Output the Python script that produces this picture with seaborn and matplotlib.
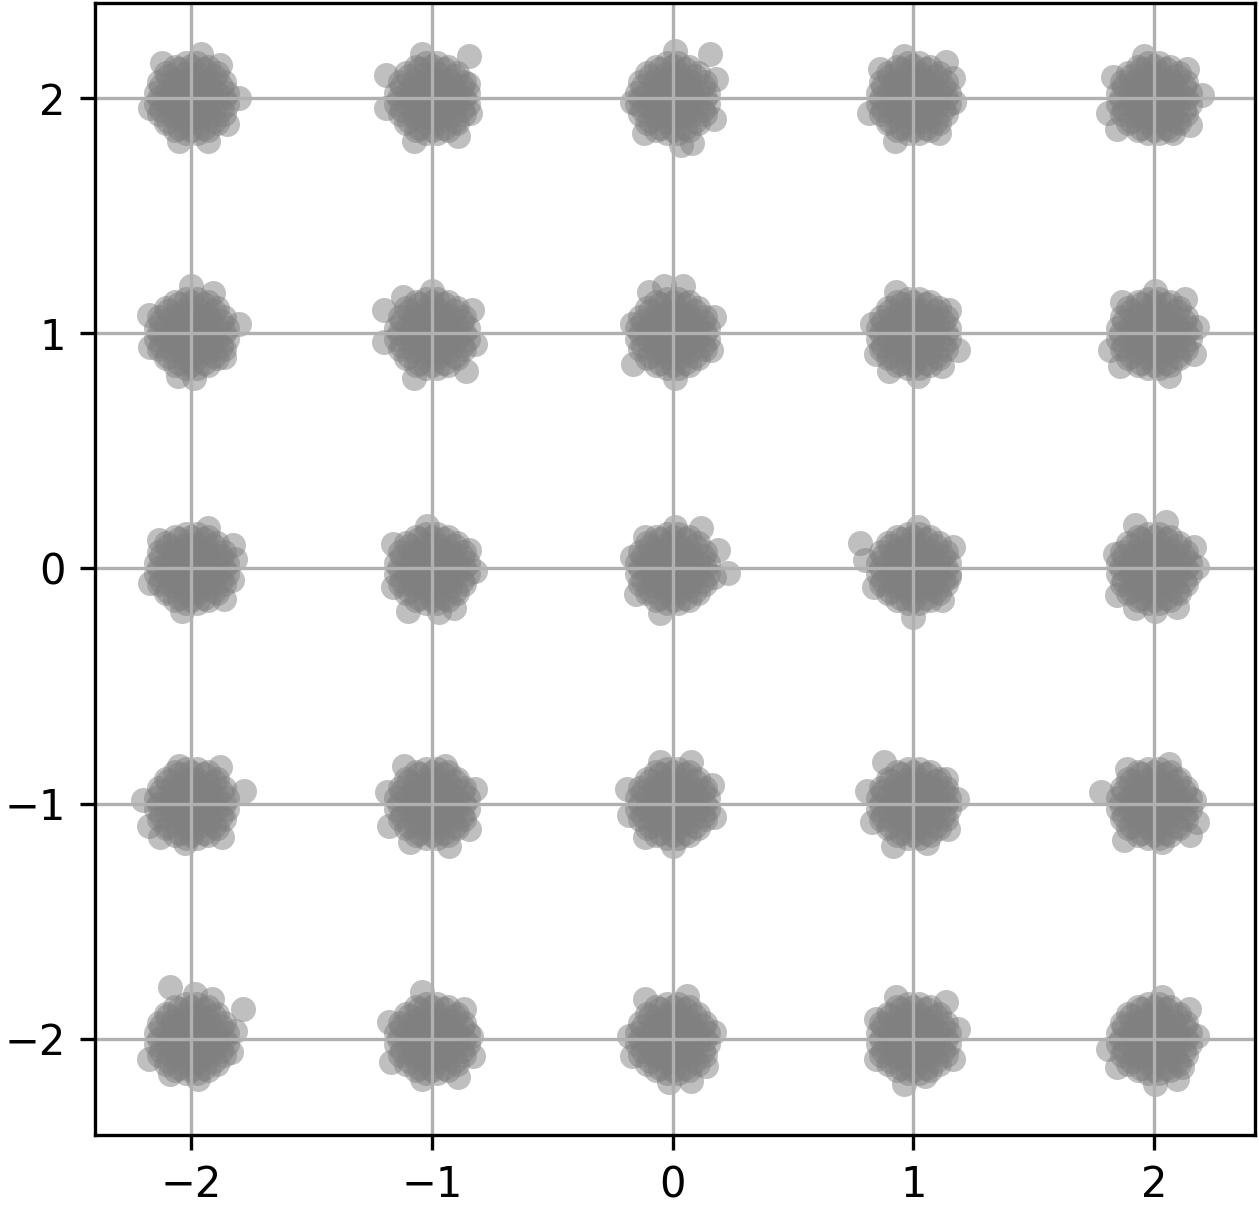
import numpy as np
import pandas as pd
import matplotlib
matplotlib.use("Agg")
import matplotlib.pyplot as plt
import seaborn as sns

# Constellation points (5x5 grid)
CENTER_X = [-2, -1, 0, 1, 2] * 5
CENTER_Y = [2] * 5 + [1] * 5 + [0] * 5 + [-1] * 5 + [-2] * 5

# Dense core of each cluster (offsets read as a compact blob)
CORE_DX = [0.0,
           0.035, 0.0175, -0.0175, -0.035, -0.0175, 0.0175,
           0.07, 0.061, 0.035, 0.0, -0.035, -0.061, -0.07, -0.061, -0.035, 0.0, 0.035, 0.061,
           0.082, 0.060, 0.022, -0.022, -0.060, -0.082, -0.082, -0.060, -0.022, 0.022, 0.060, 0.082,
           0.101, 0.074, 0.027, -0.027, -0.074, -0.101, -0.101, -0.074, -0.027, 0.027, 0.074, 0.101,
           0.135, 0.125, 0.095, 0.052, 0.0, -0.052, -0.095, -0.125, -0.135, -0.125, -0.095, -0.052, 0.0, 0.052, 0.095, 0.125,
           0.148, 0.134, 0.106, 0.068, 0.023, -0.023, -0.068, -0.106, -0.134, -0.148,
           -0.148, -0.134, -0.106, -0.068, -0.023, 0.023, 0.068, 0.106, 0.134, 0.148]
CORE_DY = [0.0,
           0.0, 0.030, 0.030, 0.0, -0.030, -0.030,
           0.0, 0.035, 0.061, 0.07, 0.061, 0.035, 0.0, -0.035, -0.061, -0.07, -0.061, -0.035,
           0.022, 0.060, 0.082, 0.082, 0.060, 0.022, -0.022, -0.060, -0.082, -0.082, -0.060, -0.022,
           0.027, 0.074, 0.101, 0.101, 0.074, 0.027, -0.027, -0.074, -0.101, -0.101, -0.074, -0.027,
           0.0, 0.052, 0.095, 0.125, 0.135, 0.125, 0.095, 0.052, 0.0, -0.052, -0.095, -0.125, -0.135, -0.125, -0.095, -0.052,
           0.023, 0.068, 0.106, 0.134, 0.148, 0.148, 0.134, 0.106, 0.068, 0.023,
           -0.023, -0.068, -0.106, -0.134, -0.148, -0.148, -0.134, -0.106, -0.068, -0.023]

# Scattered outer points of each cluster (dx, dy), same order as centers
OUTLIERS = [
    [(0.20, 0.0), (0.07, -0.18), (0.15, -0.11), (-0.17, -0.04), (-0.12, 0.15), (0.04, 0.19), (0.12, 0.14), (-0.05, -0.18)],
    [(0.155, 0.18), (0.15, 0.06), (-0.19, 0.10), (-0.19, -0.04), (0.11, -0.16), (-0.075, -0.18), (-0.04, 0.19), (0.16, -0.065)],
    [(0.155, 0.19), (0.18, 0.08), (0.17, -0.09), (0.08, -0.19), (0.035, -0.20), (-0.17, -0.015), (-0.12, -0.15), (0.01, 0.20)],
    [(0.135, 0.155), (-0.14, 0.126), (-0.185, -0.065), (-0.076, -0.18), (0.17, -0.015), (0.165, 0.084), (-0.04, 0.18), (0.107, -0.15)],
    [(0.20, 0.013), (0.15, -0.115), (-0.04, 0.18), (-0.19, -0.065), (-0.155, -0.13), (0.08, -0.15), (0.137, 0.126), (-0.17, 0.09)],
    [(-0.175, 0.077), (0.20, 0.04), (0.0, 0.20), (0.09, 0.17), (-0.056, -0.18), (0.01, -0.19), (-0.17, -0.06), (0.135, -0.10)],
    [(0.165, 0.10), (-0.20, 0.10), (-0.20, -0.037), (-0.075, -0.19), (0.14, -0.16), (0.0, 0.18), (-0.12, 0.155), (0.18, -0.045)],
    [(-0.165, -0.13), (0.01, -0.19), (-0.035, 0.20), (0.045, 0.20), (0.17, 0.07), (0.16, -0.07), (-0.17, 0.04), (-0.10, 0.175)],
    [(0.187, -0.07), (-0.17, 0.04), (-0.156, -0.087), (0.02, -0.18), (0.12, -0.14), (-0.07, 0.175), (0.15, 0.10), (-0.10, -0.16)],
    [(0.13, 0.147), (-0.184, -0.072), (-0.133, 0.133), (0.064, -0.18), (0.18, 0.027), (0.167, -0.087), (-0.14, -0.14), (0.005, 0.18)],
    [(0.175, 0.10), (0.18, 0.04), (-0.17, -0.06), (0.135, -0.13), (-0.04, -0.18), (0.07, 0.17), (-0.135, 0.12), (0.17, -0.05)],
    [(-0.16, 0.105), (-0.02, 0.18), (0.18, -0.01), (-0.10, -0.18), (0.09, -0.17), (0.03, -0.186), (-0.16, -0.08), (0.156, 0.077)],
    [(-0.17, 0.048), (-0.053, -0.19), (0.187, 0.077), (0.17, -0.037), (0.01, 0.175), (0.12, 0.17), (-0.15, -0.11), (-0.116, 0.133), (0.23, -0.02)],
    [(-0.22, 0.11), (-0.20, 0.034), (-0.165, -0.08), (0.0, -0.207), (0.165, 0.09), (0.12, -0.136), (0.02, 0.176), (0.15, -0.037)],
    [(0.05, 0.197), (-0.08, 0.183), (0.18, 0.006), (0.167, 0.09), (0.006, -0.18), (-0.08, -0.17), (-0.155, -0.115), (-0.16, 0.062), (0.094, -0.165)],
    [(0.22, 0.055), (0.12, 0.155), (-0.05, 0.16), (-0.175, -0.094), (-0.128, -0.143), (0.128, -0.143), (-0.024, -0.17), (-0.20, 0.013)],
    [(-0.187, 0.048), (0.156, -0.108), (0.07, -0.18), (-0.09, -0.165), (-0.115, 0.16), (0.053, 0.16), (-0.18, -0.094), (0.18, 0.062)],
    [(-0.188, 0.062), (-0.18, -0.05), (-0.116, -0.143), (0.0, -0.18), (-0.053, 0.176), (0.075, 0.176), (0.163, 0.077), (0.17, -0.058)],
    [(-0.12, 0.176), (-0.193, 0.055), (0.136, 0.105), (0.18, 0.02), (-0.083, -0.18), (0.056, -0.17), (0.143, -0.108), (-0.17, -0.08)],
    [(-0.22, 0.048), (0.18, -0.08), (0.167, 0.013), (-0.126, -0.157), (0.035, -0.165), (0.15, -0.136), (-0.11, 0.147), (0.064, 0.17)],
    [(0.215, 0.126), (-0.088, 0.22), (0.016, 0.19), (0.088, 0.17), (-0.175, -0.087), (-0.088, -0.15), (0.03, -0.17), (0.167, -0.058), (0.18, 0.034)],
    [(0.132, 0.126), (-0.043, 0.197), (0.172, -0.072), (0.108, -0.165), (-0.043, -0.17), (-0.18, 0.07), (-0.17, -0.10), (0.164, 0.013)],
    [(-0.013, -0.186), (0.075, -0.18), (-0.116, 0.17), (0.06, 0.183), (-0.17, -0.072), (-0.18, 0.013), (0.17, 0.027), (0.14, -0.115)],
    [(0.136, 0.155), (0.187, 0.04), (0.165, -0.087), (-0.04, -0.193), (0.048, -0.157), (-0.156, 0.084), (-0.156, -0.087), (-0.07, 0.176)],
    [(0.006, -0.193), (0.094, -0.17), (0.18, 0.013), (0.115, -0.122), (-0.19, -0.044), (-0.155, -0.122), (0.035, 0.176), (0.145, 0.126)],
]

TICKS = [-2, -1, 0, 1, 2]

rows = []
for cx, cy, outs in zip(CENTER_X, CENTER_Y, OUTLIERS):
    for dx, dy in zip(CORE_DX, CORE_DY):
        rows.append((cx + dx, cy + dy))
    for dx, dy in outs:
        rows.append((cx + dx, cy + dy))
df = pd.DataFrame(rows, columns=["I", "Q"])

fig = plt.figure(figsize=(1259 / 300, 1209 / 300), dpi=300)
ax = fig.add_axes([95 / 1259, 1 - 1135 / 1209, 1160 / 1259, 1132 / 1209])
sns.scatterplot(data=df, x="I", y="Q", color="gray", alpha=0.5, s=36,
                linewidth=0, ax=ax)
ax.set_xlim(-2.40, 2.42)
ax.set_ylim(-2.41, 2.405)
ax.set_xticks(TICKS)
ax.set_yticks(TICKS)
ax.set_xlabel("")
ax.set_ylabel("")
ax.grid(True)
fig.savefig("out.png", dpi=300)
